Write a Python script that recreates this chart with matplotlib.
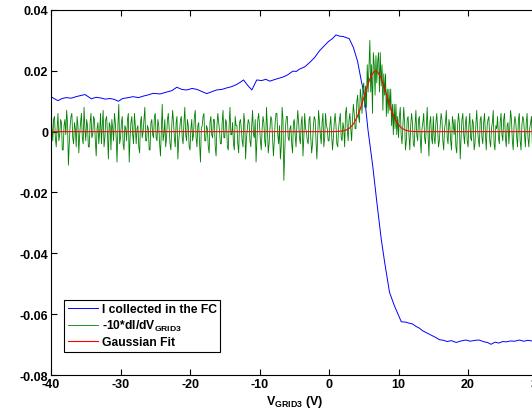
import numpy as np
import matplotlib
matplotlib.use('Agg')
import matplotlib.pyplot as plt

plt.rcParams['font.family'] = ['Liberation Sans', 'DejaVu Sans']
plt.rcParams['font.weight'] = 'bold'
plt.rcParams['axes.unicode_minus'] = False
plt.rcParams['mathtext.fontset'] = 'custom'
plt.rcParams['mathtext.rm'] = 'Liberation Sans:bold'
plt.rcParams['mathtext.bf'] = 'Liberation Sans:bold'
plt.rcParams['mathtext.default'] = 'rm'

# current collected in the FC, x1e-3
v_fc = [-40, -39.5, -39, -38.4, -37.8, -37.1, -36.4, -35.7, -35.1, -34.2, -33.5,
        -32.9, -32.2, -31.5, -30.9, -30.3, -29.7, -29.1, -28.2, -27.4, -26.7,
        -26.0, -25.3, -24.3, -23.4, -22.6, -21.9, -21.2, -20.5, -19.7, -19.0,
        -18.3, -17.6, -16.9, -16.2, -15.4, -14.7, -14.0, -13.3, -12.8, -12.3,
        -11.7, -11.1, -10.7, -10.4, -9.7, -9.1, -8.5, -8.0, -7.3, -6.7, -6.0,
        -5.2, -4.7, -4.3, -3.5, -2.8, -2.1, -1.4, -0.7, -0.1, 0.5, 1.0, 1.5,
        2.0, 2.5, 2.9, 3.5, 4.1, 4.6, 5.1, 5.6, 6.3, 6.9, 7.5, 8.0, 8.7, 9.4,
        10.4, 11.0, 11.6, 12.0, 12.5, 13.0, 13.5, 14.1, 14.7, 15.3, 15.9, 16.5,
        17.0, 17.6, 18.3, 19.0, 19.7, 20.3, 21.0, 21.6, 22.3, 22.8, 23.3, 23.9,
        24.4, 25.0, 25.5, 26.1, 26.7, 27.4, 28.0, 28.6, 29.2, 30]
i_fc = [11.5, 10.8, 10.2, 10.9, 11.2, 11.0, 11.5, 11.9, 12.2, 10.8, 11.3,
        11.1, 10.7, 10.9, 10.6, 10.0, 10.9, 11.1, 11.5, 11.2, 11.7,
        12.1, 12.6, 12.4, 13.0, 13.5, 14.6, 13.9, 13.7, 14.2, 13.9,
        13.2, 12.5, 13.1, 13.7, 13.9, 14.4, 14.8, 15.5, 16.2, 17.0,
        15.2, 13.7, 15.6, 17.0, 16.8, 17.2, 16.6, 17.0, 17.5, 17.9, 18.6,
        19.9, 19.8, 20.5, 21.3, 22.7, 24.3, 26.5, 28.2, 29.6, 30.6, 31.8, 31.4,
        31.3, 30.9, 30.6, 27.7, 23.2, 17.2, 11.7, 0.7, -11.5, -23.6, -35.1, -42.9, -52.8, -57.2,
        -62.5, -62.6, -63.0, -63.2, -64.0, -64.6, -65.5, -66.2, -66.9, -67.6, -68.4, -68.6,
        -69.0, -68.7, -69.3, -68.8, -68.5, -68.9, -68.6, -68.5, -69.1, -69.3, -69.9, -69.2,
        -69.5, -69.0, -69.1, -68.8, -68.9, -68.5, -68.9, -68.6, -68.8, -68.6]

# -10*dI/dV, x1e-3, one row per 5 V, sampled every 0.125 V from -40 to 30
green = [
    10, 2, -3, 4, 5, -2, -5, 1, 6, -3, -1, 4, 3, -6, -6, 2, 4, -1, 7, 3,
    -11, -4, 2, 5, 6, -2, -4, 3, 1, -5, 5, 2, -7, -1, 3, 6, -2, -4, 8, 1,
    -3, 4, 2, -5, -5, 3, 6, -2, -1, 5, 4, -3, -8, 1, 3, -4, 0, 6, -4, 2,
    7, -5, -2, 4, 5, -1, -9, 3, 2, -6, 4, 1, -3, 6, 3, -2, -10, 2, 9, -4,
    -2, 3, 5, -4, -6, 2, 1, -3, 4, 6, -10, -2, 3, 5, -1, -4, 6, 2, -4, 1,
    2, -5, -7, 3, 5, -2, 0, 4, 8, -3, -3, 2, 1, -6, -6, 3, 4, -1, -2, 5,
    6, -2, -3, 4, 2, -4, -8, 1, 9, -3, -1, 4, -5, -2, 4, 6, 1, -4, -6, 2,
    7, 3, -2, -5, 3, 5, -9, -3, 0, 4, 5, -2, -4, 3, 8, -1, -3, 4, 2, -5,
    -6, 1, 4, -3, -1, 5, 7, -2, -5, 2, 3, -4, -10, 1, 2, 5, 6, -3, -3, 2,
    1, -5, -7, 3, 5, -1, -2, 4, 4, -5, -8, 2, 6, 3, 0, -4, -4, 3, 7, -2,
    -2, 4, 3, -5, -6, 2, 8, -1, -1, 3, -4, -6, 5, 2, 2, -4, -7, 3, 4, 1,
    -3, -5, 6, 3, -9, -2, 1, 4, 3, -3, -5, 2, 7, -1, -2, 4, -10, -3, 4, 6,
    2, -3, -6, 1, 5, 3, -3, -5, 8, 2, -7, -4, 1, 5, 4, -2, -8, -3, 3, 6,
    6, -1, -4, 2, -9, -5, 8, 4, -16, -7, 2, 5, 5, -2, -3, 1, 2, -4, -7, 3,
    4, -1, -5, 2, 7, 3, -2, -4, 3, 5, -8, -2, 6, 1, 0, -3, -4, 4, 5, -2,
    -7, -4, 2, 5, 4, -3, -9, -1, 7, 3, -1, -4, 3, 6, -5, -2, 6, 2, 1, -3,
    -3, 2, 5, -1, -6, -2, 3, 6, 2, -4, -5, 1, 4, 6, -2, -3, 3, 1, -5, 6,
    8, 1, -3, 4, 6, 1, -3, 4, 9, 6, 1, 1, 10, 12, 5, 3, 14, 11, 6, 14,
    16, 8, 15, 8, 22, 13, 21, 30, 13, 22, 6, 26, 22, 12, 25, 16, 23, 26, 13, 26,
    15, 22, 7, 19, 12, 19, 5, 14, 6, 14, 7, 14, 2, 9, -1, 9, 1, 9, -1, 5,
    -2, 5, 8, -1, -4, 2, 8, 3, -6, -3, 4, 5, -1, -6, 2, 6, 3, -4, -5, 2,
    7, -1, -3, 4, 5, -2, -7, 1, 3, 6, -2, -4, 2, 8, -1, -8, 3, 5, -2, -4,
    5, -2, -4, 3, 6, 1, -5, -3, 2, 6, 4, -3, -6, 1, 3, 7, -2, -4, 4, 2,
    -3, -6, 5, 3, -1, 4, -5, -7, 2, 6, 3, -9, -2, 4, 6, -1, -4, 3, 5, -3,
    -5, 2, 6, -2, -3, 4, 3, -6, -4, 2, 7, 1, -3, -5, 4, 5, -2, -4, 3, 6,
    -1, -6, 2, 4, 5, -3, -5, 1, 3, 7, -4, -6, 2, 1, 5, -2, -4, 3, 6, -1,
    -3, 4, 6, -2, -5, 2, 3, -4, 1, 7, 4, -3, -6, 2, 5, 3, -2, -5, 4, 6,
    -3, -6, 2, 5, 4, -1, -5, 3, 6, -2, -5, 1, 3, 5, -4, -3, 4, 6, -2, -4,
    -5]
v_green = np.linspace(-40, 30, len(green))

# gaussian fit curve, x1e-3
v_fit = [-40, 0, 1, 2, 2.5, 3, 3.5, 4, 4.5, 5, 5.5, 6, 6.5, 6.7, 7, 7.5, 8, 8.5,
         9, 9.5, 10, 10.5, 11, 11.5, 12, 13, 30]
fit = [0, 0, 0.03, 0.23, 0.56, 1.24, 2.5, 4.56, 7.5, 11.1, 14.9, 18.1, 19.8, 20.0,
       19.6, 17.6, 14.2, 10.4, 6.8, 4.1, 2.2, 1.07, 0.47, 0.19, 0.07, 0, 0]

fig = plt.figure(figsize=(5.32, 4.10), dpi=100)
ax = fig.add_axes([0.0959, 0.0829, 0.9145, 0.8903])

ax.plot(v_fc, np.array(i_fc) * 1e-3, color='#0000ff', lw=0.7, label='I collected in the FC')
ax.plot(v_green, np.array(green) * 1e-3, color='#008000', lw=0.6, label=r'-10*dI/dV$_{GRID3}$')
ax.plot(v_fit, np.array(fit) * 1e-3, color='#ff0000', lw=0.8, label='Gaussian Fit')

ax.set_xlim(-40, 30)
ax.set_ylim(-0.08, 0.04)
ax.set_xticks([-40, -30, -20, -10, 0, 10, 20, 30])
ax.set_yticks([-0.08, -0.06, -0.04, -0.02, 0, 0.02, 0.04])
ax.set_yticklabels(['-0.08', '-0.06', '-0.04', '-0.02', '0', '0.02', '0.04'])
ax.tick_params(direction='in', length=4, width=0.8, top=True, right=True,
               labelsize=9, pad=2)
for s in ax.spines.values():
    s.set_linewidth(0.8)

ax.set_xlabel(r'V$_{GRID3}$ (V)', fontsize=9, fontweight='bold', labelpad=2)

leg = ax.legend(loc='lower left', bbox_to_anchor=(0.027, 0.063), borderaxespad=0,
                fancybox=False, edgecolor='black', framealpha=1, fontsize=8.7,
                handlelength=2.5, handletextpad=0.3, labelspacing=0.25,
                borderpad=0.3)
leg.get_frame().set_linewidth(0.8)

fig.savefig('out.png', dpi=100)
